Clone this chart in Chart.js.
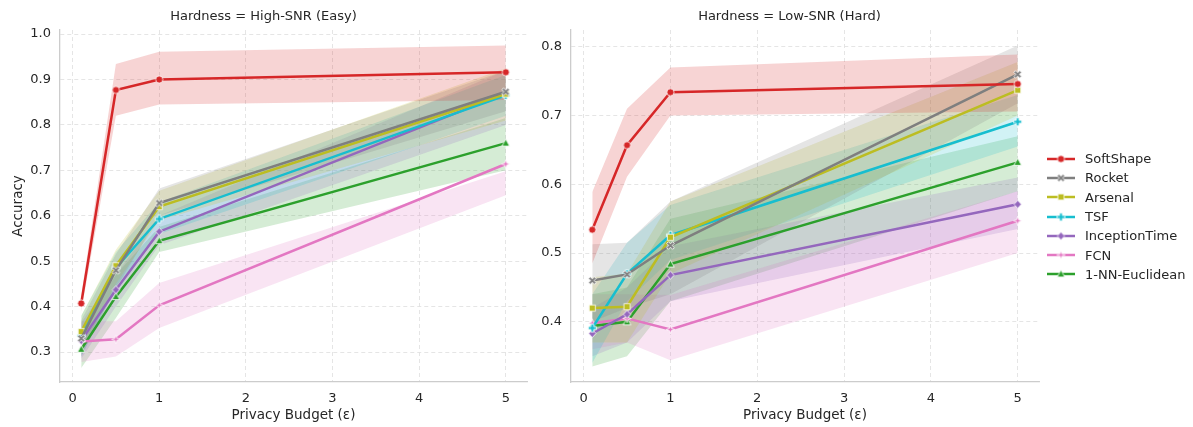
<!DOCTYPE html>
<html>
<head>
<meta charset="utf-8">
<script src="https://cdn.jsdelivr.net/npm/chart.js"></script>
<style>
  body { margin: 0; background: #fff; width: 1193px; height: 427px; overflow: hidden; position: relative; font-family: 'DejaVu Sans', sans-serif; }
  .panel { position: absolute; top: 0; }
  #legend { position: absolute; left: 1046px; top: 149px; font-size: 13px; color: #262626; }
  .leg-row { display: flex; align-items: center; height: 19.3px; }
  .leg-row canvas { margin-right: 9px; }
</style>
</head>
<body>
<div class="panel" style="left:0px"><canvas id="chartEasy" width="540" height="427"></canvas></div>
<div class="panel" style="left:540px"><canvas id="chartHard" width="510" height="427"></canvas></div>
<div id="legend"></div>

<script>
// ----- Dados -----
const budgets = [0.1, 0.5, 1, 5];
const xTicks = [0, 1, 2, 3, 4, 5];
const yTicksEasy = [0.3, 0.4, 0.5, 0.6, 0.7, 0.8, 0.9, 1.0];
const yTicksHard = [0.4, 0.5, 0.6, 0.7, 0.8];
const methods = ['SoftShape', 'Rocket', 'Arsenal', 'TSF', 'InceptionTime', 'FCN', '1-NN-Euclidean'];

// High-SNR (Easy): média, limite inferior, limite superior
const softshapeEasy = [0.407, 0.877, 0.900, 0.916];
const rocketEasy    = [0.330, 0.480, 0.628, 0.873];
const arsenalEasy   = [0.345, 0.490, 0.620, 0.868];
const tsfEasy       = [0.336, 0.485, 0.593, 0.865];
const inceptionEasy = [0.325, 0.437, 0.565, 0.870];
const fcnEasy       = [0.323, 0.328, 0.403, 0.714];
const nnEasy        = [0.306, 0.422, 0.545, 0.760];

const softshapeEasyLo = [0.390, 0.820, 0.845, 0.855];
const softshapeEasyHi = [0.425, 0.934, 0.961, 0.975];
const rocketEasyLo    = [0.290, 0.440, 0.600, 0.830];
const rocketEasyHi    = [0.370, 0.515, 0.660, 0.920];
const arsenalEasyLo   = [0.300, 0.450, 0.590, 0.810];
const arsenalEasyHi   = [0.380, 0.525, 0.655, 0.925];
const tsfEasyLo       = [0.290, 0.445, 0.560, 0.820];
const tsfEasyHi       = [0.380, 0.520, 0.630, 0.910];
const inceptionEasyLo = [0.285, 0.400, 0.535, 0.800];
const inceptionEasyHi = [0.365, 0.470, 0.600, 0.920];
const fcnEasyLo       = [0.278, 0.290, 0.353, 0.645];
const fcnEasyHi       = [0.368, 0.368, 0.452, 0.698];
const nnEasyLo        = [0.265, 0.375, 0.520, 0.700];
const nnEasyHi        = [0.345, 0.470, 0.575, 0.815];

// Low-SNR (Hard)
const softshapeHard = [0.534, 0.657, 0.734, 0.746];
const rocketHard    = [0.460, 0.469, 0.511, 0.760];
const arsenalHard   = [0.420, 0.422, 0.523, 0.737];
const tsfHard       = [0.391, 0.470, 0.526, 0.691];
const inceptionHard = [0.383, 0.411, 0.468, 0.571];
const fcnHard       = [0.398, 0.405, 0.389, 0.547];
const nnHard        = [0.394, 0.400, 0.484, 0.632];

const softshapeHardLo = [0.485, 0.611, 0.700, 0.706];
const softshapeHardHi = [0.589, 0.710, 0.770, 0.789];
const rocketHardLo    = [0.400, 0.420, 0.440, 0.718];
const rocketHardHi    = [0.513, 0.515, 0.575, 0.802];
const arsenalHardLo   = [0.370, 0.370, 0.470, 0.700];
const arsenalHardHi   = [0.465, 0.470, 0.575, 0.778];
const tsfHardLo       = [0.340, 0.430, 0.490, 0.655];
const tsfHardHi       = [0.440, 0.515, 0.570, 0.730];
const inceptionHardLo = [0.350, 0.370, 0.430, 0.535];
const inceptionHardHi = [0.420, 0.450, 0.510, 0.610];
const fcnHardLo       = [0.360, 0.370, 0.344, 0.500];
const fcnHardHi       = [0.440, 0.440, 0.439, 0.590];
const nnHardLo        = [0.335, 0.350, 0.430, 0.590];
const nnHardHi        = [0.440, 0.450, 0.550, 0.670];

// ----- Estilo -----
const colors = ['#d62728', '#7f7f7f', '#bcbd22', '#17becf', '#9467bd', '#e377c2', '#2ca02c'];
const shapes = ['o', 'X', 's', 'P', 'D', 'star', '^'];
const textColor = '#262626';

Chart.defaults.font.family = "'DejaVu Sans', sans-serif";
Chart.defaults.font.size = 13;
Chart.defaults.color = textColor;

function hexToRgba(hex, a) {
  const n = parseInt(hex.slice(1), 16);
  return `rgba(${(n >> 16) & 255}, ${(n >> 8) & 255}, ${n & 255}, ${a})`;
}

function plusPath(g, a, b) {
  const p = [[-a,-b],[a,-b],[a,-a],[b,-a],[b,a],[a,a],[a,b],[-a,b],[-a,a],[-b,a],[-b,-a],[-a,-a]];
  p.forEach((pt, i) => i === 0 ? g.moveTo(pt[0], pt[1]) : g.lineTo(pt[0], pt[1]));
  g.closePath();
}

// marcadores no estilo do seaborn (preenchidos com borda branca)
function makeMarker(shape, color) {
  const s = 11;
  const c = document.createElement('canvas');
  c.width = s; c.height = s;
  const g = c.getContext('2d');
  g.translate(s / 2, s / 2);
  g.fillStyle = color;
  g.strokeStyle = '#fff';
  g.lineWidth = 0.8;
  g.beginPath();
  if (shape === 'o') {
    g.arc(0, 0, 3.6, 0, Math.PI * 2);
  } else if (shape === 's') {
    g.rect(-3.1, -3.1, 6.2, 6.2);
  } else if (shape === 'D') {
    g.moveTo(0, -4); g.lineTo(3.6, 0); g.lineTo(0, 4); g.lineTo(-3.6, 0); g.closePath();
  } else if (shape === '^') {
    g.moveTo(0, -4); g.lineTo(3.8, 3); g.lineTo(-3.8, 3); g.closePath();
  } else if (shape === 'P') {
    plusPath(g, 1.4, 4);
  } else if (shape === 'X') {
    g.rotate(Math.PI / 4);
    plusPath(g, 1.2, 4.2);
  } else if (shape === 'star') {
    for (let k = 0; k < 8; k++) {
      const r = k % 2 === 0 ? 4.2 : 1.5;
      const ang = -Math.PI / 2 + k * Math.PI / 4;
      const px = r * Math.cos(ang), py = r * Math.sin(ang);
      k === 0 ? g.moveTo(px, py) : g.lineTo(px, py);
    }
    g.closePath();
  }
  g.fill();
  g.stroke();
  return c;
}

const markers = colors.map((c, i) => makeMarker(shapes[i], c));

function toPoints(values) {
  return budgets.map((x, j) => ({ x: x, y: values[j] }));
}

function buildDatasets(means, lows, highs) {
  const datasets = [];
  methods.forEach((m, i) => {
    datasets.push({
      label: m,
      data: toPoints(means[i]),
      borderColor: colors[i],
      backgroundColor: colors[i],
      borderWidth: 2.5,
      pointStyle: markers[i],
      pointRadius: 4,
      fill: false,
      order: 0
    });
  });
  methods.forEach((m, i) => {
    datasets.push({
      label: m + ' hi',
      data: toPoints(highs[i]),
      borderWidth: 0,
      borderColor: 'rgba(0,0,0,0)',
      pointRadius: 0,
      backgroundColor: hexToRgba(colors[i], 0.2),
      fill: '+1',
      order: 1
    });
    datasets.push({
      label: m + ' lo',
      data: toPoints(lows[i]),
      borderWidth: 0,
      borderColor: 'rgba(0,0,0,0)',
      pointRadius: 0,
      fill: false,
      order: 1
    });
  });
  return datasets;
}

function buildPanel(canvasId, title, means, lows, highs, yMin, yMax, yTicks, opts) {
  const ctx = document.getElementById(canvasId).getContext('2d');
  return new Chart(ctx, {
    type: 'line',
    data: { datasets: buildDatasets(means, lows, highs) },
    options: {
      responsive: false,
      animation: false,
      layout: { padding: { left: 0, right: opts.rightPad, top: 0, bottom: 0 } },
      plugins: {
        legend: { display: false },
        tooltip: { enabled: false },
        title: {
          display: true,
          text: title,
          color: textColor,
          font: { size: 13, weight: 'normal' },
          padding: { top: 9, bottom: 5.4 }
        }
      },
      scales: {
        x: {
          type: 'linear',
          min: -0.145,
          max: 5.245,
          afterBuildTicks: scale => { scale.ticks = xTicks.map(v => ({ value: v })); },
          afterFit: scale => { scale.height = 45; },
          ticks: { padding: 9, color: textColor, callback: v => String(v) },
          grid: { color: '#e2e2e2', lineWidth: 0.9, drawTicks: false },
          border: { display: true, color: '#cccccc', width: 1.3, dash: [4, 3] },
          title: { display: true, text: 'Privacy Budget (\u03b5)', color: textColor, font: { size: 13.5 }, padding: { top: 0, bottom: 3 } }
        },
        y: {
          type: 'linear',
          min: yMin,
          max: yMax,
          afterBuildTicks: scale => { scale.ticks = yTicks.map(v => ({ value: v })); },
          afterFit: scale => { scale.width = opts.yWidth; },
          ticks: { padding: 9, color: textColor, callback: v => v.toFixed(1) },
          grid: { color: '#e2e2e2', lineWidth: 0.9, drawTicks: false },
          border: { display: true, color: '#cccccc', width: 1.3, dash: [4, 3] },
          title: { display: opts.yTitle, text: 'Accuracy', color: textColor, font: { size: 13.5 }, padding: { top: 10, bottom: 0 } }
        }
      }
    }
  });
}

buildPanel('chartEasy', 'Hardness = High-SNR (Easy)',
  [softshapeEasy, rocketEasy, arsenalEasy, tsfEasy, inceptionEasy, fcnEasy, nnEasy],
  [softshapeEasyLo, rocketEasyLo, arsenalEasyLo, tsfEasyLo, inceptionEasyLo, fcnEasyLo, nnEasyLo],
  [softshapeEasyHi, rocketEasyHi, arsenalEasyHi, tsfEasyHi, inceptionEasyHi, fcnEasyHi, nnEasyHi],
  0.234, 1.009, yTicksEasy, { yWidth: 60, rightPad: 13, yTitle: true });

buildPanel('chartHard', 'Hardness = Low-SNR (Hard)',
  [softshapeHard, rocketHard, arsenalHard, tsfHard, inceptionHard, fcnHard, nnHard],
  [softshapeHardLo, rocketHardLo, arsenalHardLo, tsfHardLo, inceptionHardLo, fcnHardLo, nnHardLo],
  [softshapeHardHi, rocketHardHi, arsenalHardHi, tsfHardHi, inceptionHardHi, fcnHardHi, nnHardHi],
  0.3125, 0.8245, yTicksHard, { yWidth: 31, rightPad: 11, yTitle: false });

// ----- Legenda -----
const legend = document.getElementById('legend');
methods.forEach((m, i) => {
  const row = document.createElement('div');
  row.classList.add('leg-row');
  const c = document.createElement('canvas');
  c.width = 30; c.height = 12;
  const g = c.getContext('2d');
  g.strokeStyle = colors[i];
  g.lineWidth = 2.5;
  g.beginPath(); g.moveTo(1, 6); g.lineTo(29, 6); g.stroke();
  g.drawImage(markers[i], 15 - 5.5, 6 - 5.5);
  const label = document.createElement('span');
  label.textContent = m;
  row.appendChild(c);
  row.appendChild(label);
  legend.appendChild(row);
});
</script>
</body>
</html>
